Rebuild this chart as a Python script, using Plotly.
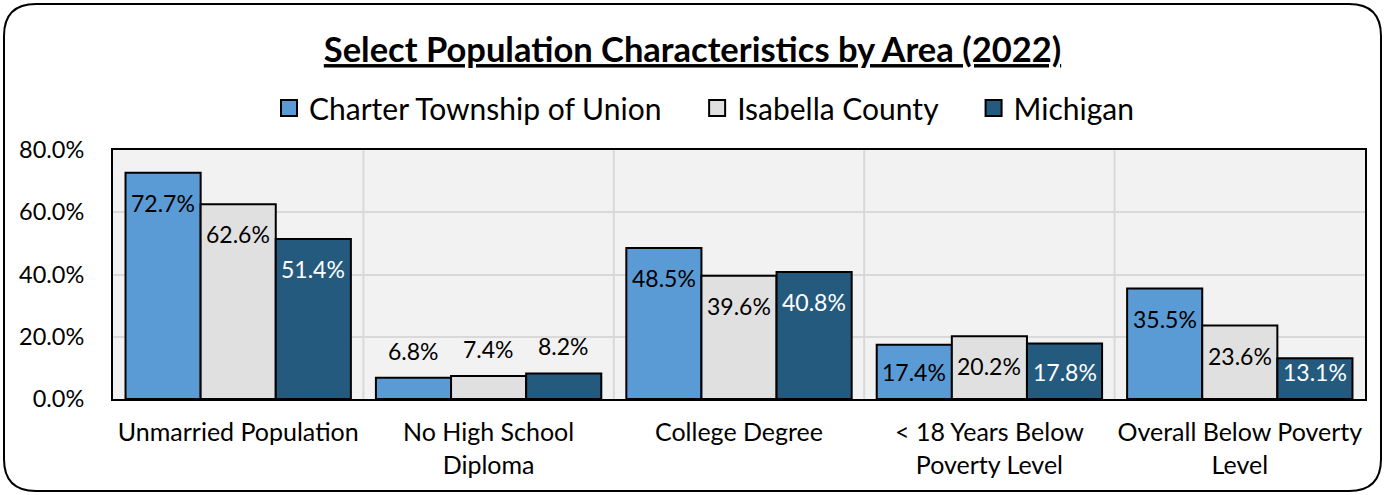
import plotly.graph_objects as go

categories = ["Unmarried Population", "No High School<br>Diploma", "College Degree",
              "&lt; 18 Years Below<br>Poverty Level", "Overall Below Poverty<br>Level"]
union_vals = [72.7, 6.8, 48.5, 17.4, 35.5]
isabella_vals = [62.6, 7.4, 39.6, 20.2, 23.6]
michigan_vals = [51.4, 8.2, 40.8, 17.8, 13.1]
series_names = ["Charter Township of Union", "Isabella County", "Michigan"]
tick_vals = [0, 20, 40, 60, 80]
tick_text = ["0.0%", "20.0%", "40.0%", "60.0%", "80.0%"]

FONT = "Lato, Calibri, Carlito, sans-serif"
W, H = 1385, 495
L, R, T, B = 113, 20, 150, 96
BARGAP = 0.1
Y_MAX = 80
PX_PER_UNIT = (H - T - B) / Y_MAX

colors = ["#5B9BD5", "#E0E0E0", "#255A7F"]
text_colors = ["#000000", "#000000", "#FFFFFF"]
x_idx = list(range(len(categories)))
all_vals = [union_vals, isabella_vals, michigan_vals]
n_series = len(all_vals)
bar_w = (1 - BARGAP) / n_series

fig = go.Figure()
annotations = []
for j, (name, vals, col, tcol) in enumerate(zip(series_names, all_vals, colors, text_colors)):
    fig.add_trace(go.Bar(
        x=x_idx, y=vals, name=name, showlegend=False,
        marker=dict(color=col, line=dict(color="#000000", width=2)),
        hoverinfo="skip",
    ))
    off = (j - (n_series - 1) / 2) * bar_w
    for i, v in zip(x_idx, vals):
        inside = v >= 10
        h_px = v * PX_PER_UNIT
        shift = -min(30, h_px - 27) if inside else 27
        annotations.append(dict(
            x=i + off, y=v, xref="x", yref="y", text=f"{v:.1f}%", showarrow=False,
            yshift=shift, yanchor="middle", xanchor="center",
            font=dict(size=23, family=FONT, color=tcol if inside else "#000000"),
        ))

# legend entries with larger square symbols (trailing nbsp widens spacing between entries)
pad = "\u00a0" * 4
for i, (name, col) in enumerate(zip(series_names, colors)):
    label = name + (pad if i < len(series_names) - 1 else "")
    fig.add_trace(go.Scatter(
        x=[None], y=[None], mode="markers", name=label,
        marker=dict(symbol="square", size=19, color=col, line=dict(color="#000000", width=2)),
    ))

def px_x(p):
    return (p - L) / (W - L - R)

def px_y(p):
    return 1 - (p - T) / (H - T - B)

shapes = []
for i in range(len(categories) - 1):
    shapes.append(dict(type="line", xref="x", yref="paper", x0=i + 0.5, x1=i + 0.5, y0=0, y1=1,
                       line=dict(color="#D9D9D9", width=2), layer="below"))

# rounded outer border
x0, x1, y0, y1, r = 4, 1381, 4, 491, 32
def P(x, y):
    return f"{px_x(x)},{px_y(y)}"
path = (f"M {P(x0 + r, y0)} L {P(x1 - r, y0)} Q {P(x1, y0)} {P(x1, y0 + r)} "
        f"L {P(x1, y1 - r)} Q {P(x1, y1)} {P(x1 - r, y1)} L {P(x0 + r, y1)} "
        f"Q {P(x0, y1)} {P(x0, y1 - r)} L {P(x0, y0 + r)} Q {P(x0, y0)} {P(x0 + r, y0)} Z")
shapes.append(dict(type="path", xref="paper", yref="paper", path=path,
                   line=dict(color="#000000", width=2), layer="above"))

fig.update_layout(
    width=W, height=H,
    margin=dict(l=L, r=R, t=T, b=B, pad=0),
    paper_bgcolor="#FFFFFF", plot_bgcolor="#F2F2F2",
    font=dict(family=FONT, size=23, color="#000000"),
    title=dict(text="<b><u>Select Population Characteristics by Area (2022)</u></b>",
               x=0.5, xref="container", xanchor="center", y=1 - 50 / H, yanchor="middle",
               font=dict(size=34.5, family=FONT, color="#000000")),
    barmode="group", bargap=BARGAP, bargroupgap=0,
    legend=dict(orientation="h", x=px_x(704), xanchor="center", xref="paper",
                y=px_y(108), yanchor="middle", font=dict(size=30, family=FONT),
                itemwidth=30, traceorder="normal", bgcolor="rgba(0,0,0,0)"),
    xaxis=dict(tickmode="array", tickvals=x_idx, ticktext=categories, range=[-0.5, 4.5],
               showgrid=False, showline=True, linecolor="#000000", linewidth=2, mirror=True,
               ticks="", tickfont=dict(size=25, family=FONT), zeroline=False,
               ticklabelstandoff=10),
    yaxis=dict(range=[0, Y_MAX], tickvals=tick_vals, ticktext=tick_text, showgrid=True,
               gridcolor="#D9D9D9", gridwidth=2, showline=True, linecolor="#000000",
               linewidth=2, mirror=True, ticks="", tickfont=dict(size=23.5, family=FONT),
               zeroline=False, ticklabelstandoff=22),
    shapes=shapes,
    annotations=annotations,
)

fig.write_html("out.html", config={"displayModeBar": False},
               post_script="document.body.style.margin='0';")
